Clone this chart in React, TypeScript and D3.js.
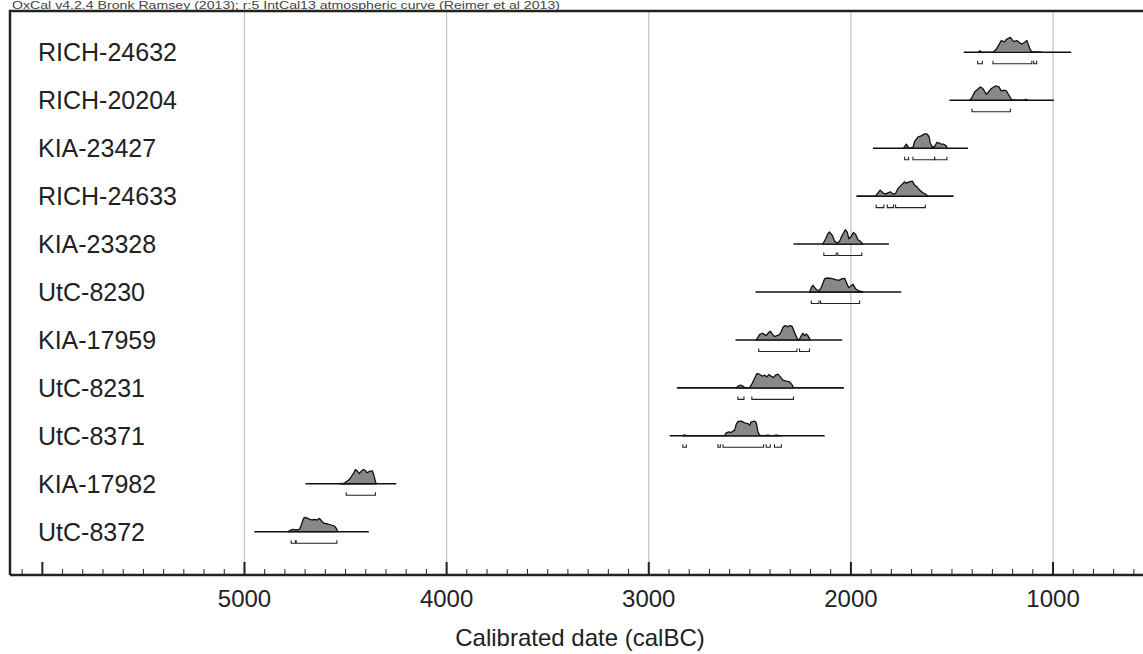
import React, { useEffect, useRef } from "react";
import * as d3 from "d3";

// sample names, top to bottom
const labels = [
  "RICH-24632",
  "RICH-20204",
  "KIA-23427",
  "RICH-24633",
  "KIA-23328",
  "UtC-8230",
  "KIA-17959",
  "UtC-8231",
  "UtC-8371",
  "KIA-17982",
  "UtC-8372",
];

// calibrated range drawn as the baseline line [from, to] calBC
const spans = [
  [1442, 910],
  [1512, 996],
  [1891, 1421],
  [1973, 1492],
  [2284, 1812],
  [2472, 1751],
  [2571, 2043],
  [2861, 2035],
  [2897, 2130],
  [4698, 4249],
  [4951, 4385],
];

// posterior densities [year calBC, relative probability]
const rich24632 = [
  [1368, 0], [1363, 1.5], [1353, 0], [1297, 0], [1281, 3], [1256, 11.7], [1240, 10.5],
  [1231, 13], [1211, 15], [1195, 10.7], [1179, 11.7], [1165, 9.5], [1157, 8.3], [1141, 9.7],
  [1129, 11.7], [1116, 4], [1107, 0.7], [1080, 0.5], [1051, 0],
];
const rich20204 = [
  [1413, 0], [1404, 1.7], [1388, 8.3], [1360, 13.3], [1347, 11.7], [1330, 6], [1305, 11.7],
  [1284, 14.3], [1268, 13.3], [1256, 9.3], [1240, 10], [1231, 9.3], [1218, 5], [1206, 0.7],
  [1182, 0.2], [1140, 0.3], [1136, 1], [1124, 0],
];
const kia23427 = [
  [1739, 0], [1726, 4], [1713, 0], [1693, 0.7], [1685, 6.7], [1669, 11], [1652, 12.3],
  [1635, 14.3], [1624, 14.3], [1614, 11.7], [1607, 5], [1597, 1], [1586, 1.7], [1575, 5.7],
  [1561, 5], [1553, 4], [1541, 4], [1528, 2.3], [1525, 0],
];
const rich24633 = [
  [1878, 0], [1866, 3.3], [1855, 6], [1842, 3.3], [1828, 2], [1817, 3.3], [1805, 4.3],
  [1792, 2], [1779, 2.7], [1767, 7.7], [1751, 11], [1734, 14.3], [1726, 12.7], [1713, 14.3],
  [1696, 15], [1685, 11], [1673, 9.3], [1660, 6], [1644, 3.3], [1630, 2], [1619, 0],
];
const kia23328 = [
  [2139, 0], [2125, 5.3], [2114, 10.3], [2105, 12], [2092, 8.7], [2081, 3], [2069, 1],
  [2056, 2.7], [2043, 8.7], [2028, 14.3], [2018, 12], [2010, 5.3], [2001, 7], [1987, 11.7],
  [1977, 9.7], [1965, 4.3], [1954, 3], [1941, 0],
];
const utc8230 = [
  [2204, 0], [2196, 4.3], [2188, 6.7], [2175, 3.3], [2158, 1], [2147, 4.3], [2130, 13.3],
  [2114, 14], [2092, 13.3], [2076, 12.3], [2059, 11.7], [2043, 13.3], [2031, 13.7], [2023, 10],
  [2011, 4.3], [2001, 5.7], [1990, 7.7], [1977, 3.3], [1960, 1], [1941, 0],
];
const kia17959 = [
  [2468, 0], [2460, 2.7], [2452, 5.3], [2438, 6.7], [2427, 5.3], [2419, 4.3], [2406, 7.7],
  [2399, 8.7], [2389, 6], [2378, 3.3], [2366, 4.3], [2353, 5.3], [2344, 8.7], [2336, 12.7],
  [2325, 14.3], [2312, 13.3], [2300, 14.3], [2290, 13.3], [2279, 7.7], [2270, 3.3], [2262, 0],
  [2254, 1], [2245, 4.3], [2238, 6.7], [2229, 4.3], [2221, 6], [2213, 4.3], [2201, 0],
];
const utc8231 = [
  [2567, 0], [2559, 1.7], [2547, 2.7], [2534, 1.7], [2526, 0.3], [2501, 0.3], [2493, 2.7],
  [2481, 7.7], [2465, 14.3], [2452, 13.7], [2438, 11.7], [2427, 12.7], [2416, 11], [2406, 13.3],
  [2394, 11.7], [2383, 10.3], [2373, 12.7], [2361, 13.7], [2349, 11], [2336, 7.7], [2320, 6.7],
  [2303, 6], [2290, 2.7], [2284, 0],
];
const utc8371 = [
  [2831, 0], [2823, 1], [2814, 0], [2625, 0], [2617, 3], [2604, 4], [2592, 3.3], [2584, 4.7],
  [2575, 5.7], [2567, 11.7], [2559, 14.3], [2542, 14.7], [2526, 13], [2510, 12.3], [2501, 10.7],
  [2493, 14], [2476, 14.7], [2468, 13], [2460, 4], [2452, 0.7], [2436, 0], [2411, 0.7],
  [2394, 0], [2369, 0.7], [2344, 0],
];
const kia17982 = [
  [4530, 0], [4505, 0.7], [4497, 2], [4484, 3.7], [4472, 7], [4461, 10.3], [4451, 14.3],
  [4439, 12], [4431, 10.3], [4420, 13], [4410, 14.3], [4401, 13], [4395, 11], [4381, 12.3],
  [4368, 13], [4360, 8.7], [4352, 2], [4348, 0],
];
const utc8372 = [
  [4786, 0], [4777, 1], [4761, 2.3], [4744, 1.7], [4728, 2.3], [4719, 6.7], [4708, 13.3],
  [4698, 14.3], [4687, 13.3], [4675, 12.3], [4665, 11.7], [4654, 12.3], [4642, 11.7],
  [4629, 13.3], [4616, 10], [4604, 8.3], [4588, 7.7], [4571, 6.7], [4555, 5.7], [4546, 3.3],
  [4538, 0],
];
const densities = [
  rich24632, rich20204, kia23427, rich24633, kia23328, utc8230,
  kia17959, utc8231, utc8371, kia17982, utc8372,
];

// highest posterior density ranges [from, to]
const ranges = [
  [[1373, 1350], [1297, 1105], [1096, 1081]],
  [[1401, 1211]],
  [[1734, 1715], [1693, 1586], [1586, 1525]],
  [[1875, 1837], [1820, 1789], [1779, 1632]],
  [[2134, 2073], [2065, 1946]],
  [[2196, 2158], [2150, 1957]],
  [[2456, 2267], [2254, 2205]],
  [[2559, 2529], [2490, 2284]],
  [[2831, 2814], [2658, 2646], [2633, 2432], [2419, 2399], [2378, 2344]],
  [[4497, 4352]],
  [[4769, 4748], [4744, 4543]],
];

const axisLabels = [5000, 4000, 3000, 2000, 1000];
const header =
  "OxCal v4.2.4 Bronk Ramsey (2013); r:5 IntCal13 atmospheric curve (Reimer et al 2013)";

export default function App() {
  const ref = useRef<SVGSVGElement>(null);

  useEffect(() => {
    const width = 1143;
    const height = 654;
    const left = 10;
    const top = 11;
    const axisY = 575;
    const font = "Liberation Sans, Arial, sans-serif";

    const svg = d3.select(ref.current);
    svg.selectAll("*").remove();

    const x = d3.scaleLinear().domain([6160, 555]).range([left, width]);
    const y = d3.scalePoint().domain(labels).range([52.3, 531.7]);
    const h = d3.scaleLinear().domain([0, 15]).range([0, 15]);

    svg
      .append("text")
      .attr("x", 12)
      .attr("y", 8.5)
      .attr("font-family", font)
      .attr("font-size", 10.5)
      .attr("textLength", 548)
      .attr("lengthAdjust", "spacingAndGlyphs")
      .attr("fill", "#444")
      .text(header);

    // grid
    svg
      .append("g")
      .selectAll("line")
      .data(axisLabels)
      .join("line")
      .attr("x1", d => x(d))
      .attr("x2", d => x(d))
      .attr("y1", top)
      .attr("y2", axisY)
      .attr("stroke", "#c4c4c4")
      .attr("stroke-width", 1.3);

    // frame
    svg
      .append("path")
      .attr("d", `M${left},${axisY}V${top}H${width + 2}`)
      .attr("fill", "none")
      .attr("stroke", "#222")
      .attr("stroke-width", 2.5);

    const rows = svg
      .append("g")
      .selectAll("g")
      .data(labels)
      .join("g")
      .attr("transform", d => `translate(0,${y(d)})`);

    rows
      .append("text")
      .attr("x", 38)
      .attr("y", 9)
      .attr("font-family", font)
      .attr("font-size", 25)
      .attr("fill", "#222")
      .text(d => d);

    rows
      .append("line")
      .attr("x1", (d, i) => x(spans[i][0]))
      .attr("x2", (d, i) => x(spans[i][1]))
      .attr("stroke", "#111")
      .attr("stroke-width", 1.6);

    const area = d3
      .area<number[]>()
      .x(d => x(d[0]))
      .y0(0)
      .y1(d => -h(d[1]));

    rows
      .append("path")
      .attr("d", (d, i) => area(densities[i] as number[][]))
      .attr("fill", "#888")
      .attr("stroke", "#111")
      .attr("stroke-width", 1.3)
      .attr("stroke-linejoin", "round");

    rows
      .append("g")
      .selectAll("path")
      .data((d, i) => ranges[i])
      .join("path")
      .attr("d", r => `M${x(r[0])},8.5V11.5H${x(r[1])}V8.5`)
      .attr("fill", "none")
      .attr("stroke", "#222")
      .attr("stroke-width", 1.1);

    // axis
    const axis = svg.append("g");
    axis
      .append("line")
      .attr("x1", left)
      .attr("x2", width + 2)
      .attr("y1", axisY)
      .attr("y2", axisY)
      .attr("stroke", "#222")
      .attr("stroke-width", 2.5);

    axis
      .selectAll("line.tick")
      .data(d3.range(6100, 500, -100))
      .join("line")
      .attr("class", "tick")
      .attr("x1", d => x(d))
      .attr("x2", d => x(d))
      .attr("y1", axisY)
      .attr("y2", d => (d % 1000 === 0 ? axisY - 13 : axisY - 6))
      .attr("stroke", "#222")
      .attr("stroke-width", d => (d % 1000 === 0 ? 2 : 1));

    axis
      .selectAll("text.label")
      .data(axisLabels)
      .join("text")
      .attr("class", "label")
      .attr("x", d => x(d))
      .attr("y", 607)
      .attr("text-anchor", "middle")
      .attr("font-family", font)
      .attr("font-size", 24)
      .attr("fill", "#222")
      .text(d => d);

    axis
      .append("text")
      .attr("x", 580)
      .attr("y", 646)
      .attr("text-anchor", "middle")
      .attr("font-family", font)
      .attr("font-size", 24)
      .attr("fill", "#222")
      .text("Calibrated date (calBC)");
  }, []);

  return (
    <svg
      ref={ref}
      width={1143}
      height={654}
      style={{ position: "absolute", left: 0, top: 0, background: "#fff" }}
    />
  );
}
